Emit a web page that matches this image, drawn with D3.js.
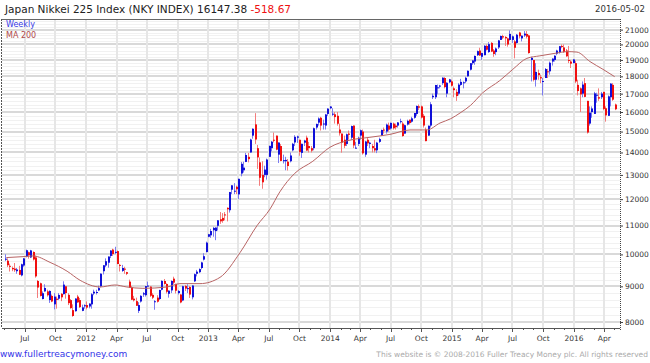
<!DOCTYPE html>
<meta charset="utf-8" />
<script src="https://d3js.org/d3.v7.min.js"></script>
<style>
  body { margin: 0; background: #fff; }
  svg { display: block; font-family: "DejaVu Sans", sans-serif; }
</style>
<div id="chart"></div>
<script>
  // weekly bars, one per week, dated by the Monday of the week
  var firstWeek = new Date(2011, 4, 2);

  var opens = [
    // 2011
    9850,9794,9630,9560,9540,9460,9500,9330,9640,9930,10070,9900,10080,9900,9160,9090,8630,8850,8850,8600,8720,8480,8640,8640,8780,8770,9000,8750,8600,8320,8290,8700,8600,8300,8440,
    // 2012
    8460,8420,8480,8790,8810,8880,9000,9460,9640,9730,9950,10160,10080,10110,9660,9470,9540,9430,9140,8970,8640,8570,8300,8560,8760,8740,9000,8990,8750,8560,8670,8630,8900,9160,9070,8780,8880,9230,9070,8800,8760,8590,9010,8930,8980,8680,9150,9380,9430,9560,9830,10080,
    // 2013
    10600,10650,10830,10800,10990,11230,11280,11410,11660,11570,12380,12300,12500,12190,13060,13200,13570,13800,14000,14800,15360,14200,13550,13000,13000,13000,13800,14200,14600,14800,13900,14300,13600,13600,13580,13600,14100,14470,14700,14600,13980,14460,14700,14300,14200,14200,15200,15450,15700,15400,15300,15900,
    // 2014
    16200,15900,15880,15800,15100,14900,14600,14400,14900,14700,15300,14200,14400,14800,15000,13900,14600,14400,14300,14200,14100,14500,14800,15100,15000,15300,15150,15400,15300,15300,15500,15400,14900,15350,15600,15500,15700,15900,16300,16300,15800,15100,14800,15300,16800,16800,17300,17400,17600,17900,17000,17650,17700,
    // 2015
    17300,17100,17000,17500,17600,17700,18000,18400,18800,18900,19300,19600,19200,19300,19900,19500,20100,19600,19500,19800,20300,20550,20500,20400,20300,20300,20200,20100,20800,20400,20600,20700,20600,19000,19000,17800,18200,17950,17700,17900,18300,18300,18900,19000,19400,19500,19900,19800,19600,19000,18900,18800,
    // 2016
    18800,17500,17300,17000,17600,16600,15400,16000,15900,16900,16800,16800,17100,16200,15800,16800,17500,16400
  ];
  var highs = [
    10004,9870,9700,9610,9720,9560,9630,9700,9880,10160,10090,10150,10100,9960,9190,9110,8850,9060,8900,8880,8760,8800,8700,8800,8800,9150,9000,8800,8630,8480,8650,8750,8660,8470,8480,
    8560,8510,8800,8900,8900,9020,9390,9650,9870,9930,10140,10190,10255,10130,9690,9660,9600,9440,9200,9010,8720,8670,8540,8740,8830,9010,9140,9000,8800,8600,8740,8900,9180,9220,9090,8880,9180,9290,9080,8890,8770,9020,9040,9060,9010,9030,9390,9500,9550,9760,10040,10430,
    10700,10880,10950,10930,11200,11500,11460,11500,11680,12290,12560,12650,12550,12840,13570,13580,13980,13980,14650,15160,15940,14350,13770,13600,13400,13720,14310,14540,14950,14800,14470,14400,13900,13800,13700,14000,14450,14820,14800,14600,14410,14600,14800,14500,14300,15200,15400,15720,15750,15600,15900,16200,
    16320,16200,16000,16000,15400,14900,14800,14900,15050,15300,15300,14500,14750,15100,15100,14550,14700,14500,14400,14600,14500,14700,15100,15200,15400,15450,15450,15450,15400,15480,15650,15500,15350,15600,15600,15750,15950,16350,16400,16350,15900,15200,15300,16530,17000,17500,17520,17500,17940,17950,17650,17850,17800,
    17400,17250,17600,17850,17700,17980,18350,18800,18980,19280,19600,19780,19450,19950,20000,20150,20150,19700,19800,20300,20600,20650,20550,20450,20950,20600,20300,20700,20850,20600,20900,20900,20650,19200,19000,18800,18400,18100,17900,18500,18450,18900,19100,19300,19650,19900,20000,20000,19700,19900,19000,19050,
    18950,17800,17350,17700,17900,16600,16300,16300,17100,17050,17300,17100,17100,16300,16900,17600,17600,16450
  ];
  var lows = [
    9780,9590,9450,9460,9440,9380,9340,9300,9600,9900,9860,9880,9800,9260,8660,8700,8620,8840,8700,8520,8540,8340,8360,8600,8570,8760,8640,8460,8360,8140,8280,8520,8380,8290,8360,
    8340,8370,8360,8740,8760,8860,8970,9360,9590,9570,9880,9950,10010,9680,9450,9440,9380,9340,8950,8600,8560,8440,8240,8530,8690,8700,8990,8690,8630,8330,8530,8600,8880,9050,8790,8670,8800,9060,8790,8760,8510,8570,8860,8800,8660,8620,9130,9300,9400,9520,9800,10060,
    10580,10560,10600,10480,10820,11060,11100,11190,11150,11480,12200,12200,12200,12000,12940,13100,13560,13550,13990,14650,14400,13260,12540,12420,12900,12800,13790,14050,14470,14100,13520,13600,13500,13200,13190,13550,14050,14300,14450,13850,13750,14300,14080,14000,14000,14100,15100,15300,15050,15100,15100,15800,
    16150,15800,15400,15300,14800,13990,14200,14300,14600,14600,14200,14200,14300,14600,13900,13800,14300,14200,14000,14000,13970,14450,14800,14900,14900,15000,15100,15100,15100,15200,15400,14750,14900,15300,15350,15450,15650,15800,16100,15660,15200,14530,14800,15200,16700,16700,16970,17300,17500,17300,16800,17600,17400,
    16800,16600,16900,17450,17300,17600,17980,18350,18700,18700,19250,19250,19000,19300,19600,19450,19500,19200,19300,19700,20300,20350,19900,19850,20250,20100,19100,20050,20400,20200,20500,20400,19400,17700,17700,17400,17800,17600,16900,17900,17900,18100,18650,18900,19300,19400,19750,19450,19200,18800,18500,18800,
    17600,16900,16000,16800,16800,14900,15300,15700,15900,16500,16600,16700,16100,15500,15800,16300,16600,16100
  ];
  var closes = [
    9859,9649,9607,9522,9492,9514,9351,9679,9868,10138,9974,10132,9833,9300,8964,8719,8798,8951,8738,8864,8560,8700,8606,8748,8679,9050,8801,8514,8375,8160,8644,8536,8402,8395,8455,
    8390,8500,8766,8841,8832,8947,9384,9647,9777,9930,10130,10011,10084,9688,9638,9561,9521,9380,8953,8611,8593,8440,8459,8721,8798,9007,9021,8724,8670,8567,8555,8891,9163,9071,8840,8872,9159,9110,8870,8863,8534,9003,8933,8946,8758,9024,9367,9446,9527,9738,9940,10395,
    10688,10802,10913,10927,11191,11153,11174,11386,11606,12284,12561,12339,12398,12834,13485,13316,13884,13694,14608,15138,14612,13775,12878,12687,13230,13677,14310,14506,14590,14130,14466,13615,13650,13661,13389,13861,14405,14742,14760,14024,14405,14562,14088,14202,14087,15166,15382,15662,15300,15403,15870,16179,
    16291,15912,15734,15392,14915,14462,14313,14866,14841,15274,14328,14224,14696,15064,13960,14516,14429,14458,14200,14097,14462,14632,15077,15098,15349,15095,15437,15164,15216,15458,15523,14778,15318,15539,15425,15669,15948,16321,16230,15709,15301,14533,15292,16414,16880,17491,17358,17460,17920,17372,17621,17819,17451,
    17198,16864,17512,17674,17649,17913,18332,18798,18971,19254,19560,19286,19435,19908,19653,20020,19532,19379,19733,20264,20563,20461,20407,19991,20706,20540,19780,20651,20545,20585,20725,20519,19436,19136,17792,18264,18070,17881,17725,18439,18292,18825,19083,19266,19597,19880,19884,19504,19230,18987,18769,19034,
    17698,17147,16959,17518,16820,14953,15967,16188,17015,16939,16725,17003,16164,15822,16848,17572,16666,16147
  ];

  // 200 day moving average
  var maDates = [
    "2011-05-07","2011-07-02","2011-07-26","2011-09-15","2011-11-05","2011-12-14","2012-02-12","2012-03-27",
    "2012-05-02","2012-06-19","2012-08-30","2012-10-08","2012-12-07","2013-02-05","2013-04-06","2013-05-27",
    "2013-07-05","2013-08-03","2013-09-17","2013-11-10","2013-12-31","2014-03-01","2014-04-30","2014-06-29",
    "2014-08-28","2014-10-18","2014-11-26","2014-12-28","2015-01-25","2015-02-25","2015-04-03","2015-05-24",
    "2015-07-02","2015-08-13","2015-09-21","2015-11-11","2015-12-11","2016-01-10","2016-02-18","2016-03-28","2016-05-02"
  ];
  var maValues = [
    9895,9930,9950,9740,9460,9180,8980,9040,
    8980,8940,8980,9080,9080,9270,10060,11000,
    11620,12290,13070,13600,14240,14580,14720,14860,
    15080,15080,15430,15650,15950,16350,17050,17750,
    18420,19100,19260,19440,19530,19500,18900,18420,17980
  ];

  var yTicks = [8000,9000,10000,11000,12000,13000,14000,15000,16000,17000,18000,19000,20000,21000];
  var title = "Japan Nikkei 225 Index (NKY INDEX) 16147.38";
  var change = "-518.67";
  var lastDate = "2016-05-02";

  var width = 650, height = 363;
  var plotLeft = 2, plotRight = 620, plotTop = 19, plotBottom = 328;

  var upColor = "#1010d8", downColor = "#f01010";
  var upWick = "#7b7bf0", downWick = "#f47c7c";

  var svg = d3.select("#chart").append("svg")
    .attr("width", width)
    .attr("height", height);

  var x = d3.scaleTime()
    .domain([new Date(2011, 3, 24), new Date(2016, 4, 18)])
    .range([plotLeft, plotRight]);
  var y = d3.scaleLog()
    .domain([7843, 21750])
    .range([plotBottom, plotTop]);

  var parse = d3.timeParse("%Y-%m-%d");
  var bars = closes.map(function (c, i) {
    return { date: d3.timeWeek.offset(firstWeek, i), o: opens[i], h: highs[i], l: lows[i], c: c };
  });
  var ma = maDates.map(function (d, i) { return { date: parse(d), v: maValues[i] }; });

  // minor horizontal grid
  var minor = [];
  for (var v = 8000; v <= 21600; v += 200) if (v % 1000) minor.push(v);
  svg.append("g").selectAll("line").data(minor).enter().append("line")
    .attr("x1", plotLeft).attr("x2", plotRight)
    .attr("y1", function (d) { return Math.round(y(d)) + 0.5; })
    .attr("y2", function (d) { return Math.round(y(d)) + 0.5; })
    .attr("stroke", "#f1f1f1");

  // major horizontal grid
  svg.append("g").selectAll("line").data(yTicks).enter().append("line")
    .attr("x1", plotLeft).attr("x2", plotRight)
    .attr("y1", function (d) { return Math.round(y(d)); })
    .attr("y2", function (d) { return Math.round(y(d)); })
    .attr("stroke", "#d9d9d9").attr("stroke-width", 2);

  // vertical grid, one per quarter
  var quarters = d3.timeMonth.every(3).range(new Date(2011, 6, 1), new Date(2016, 4, 18));
  svg.append("g").selectAll("line").data(quarters).enter().append("line")
    .attr("x1", function (d) { return Math.round(x(d)); })
    .attr("x2", function (d) { return Math.round(x(d)); })
    .attr("y1", plotTop).attr("y2", plotBottom)
    .attr("stroke", "#e6e6e6").attr("stroke-width", 2);

  // frame
  svg.append("line").attr("x1", plotLeft).attr("x2", plotRight).attr("y1", plotTop + 0.5).attr("y2", plotTop + 0.5)
    .attr("stroke", "#666");
  svg.append("line").attr("x1", 1.5).attr("x2", 1.5).attr("y1", plotTop).attr("y2", plotBottom)
    .attr("stroke", "#555").attr("stroke-dasharray", "2,1");
  svg.append("line").attr("x1", plotRight + 0.5).attr("x2", plotRight + 0.5).attr("y1", plotTop).attr("y2", plotBottom + 2)
    .attr("stroke", "#444").attr("stroke-dasharray", "1,1");

  // candles
  var candle = svg.append("g").selectAll("g").data(bars).enter().append("g");
  candle.append("line")
    .attr("x1", function (d) { return Math.round(x(d.date)) + 0.5; })
    .attr("x2", function (d) { return Math.round(x(d.date)) + 0.5; })
    .attr("y1", function (d) { return y(d.h); })
    .attr("y2", function (d) { return y(d.l); })
    .attr("stroke", function (d) { return d.c >= d.o ? upWick : downWick; });
  candle.append("rect")
    .attr("x", function (d) { return Math.round(x(d.date)); })
    .attr("width", 2)
    .attr("y", function (d) { return y(Math.max(d.o, d.c)); })
    .attr("height", function (d) { return Math.max(1, Math.abs(y(d.o) - y(d.c))); })
    .attr("fill", function (d) { return d.c >= d.o ? upColor : downColor; });

  // moving average
  svg.append("path").datum(ma)
    .attr("d", d3.line().x(function (d) { return x(d.date); }).y(function (d) { return y(d.v); }).curve(d3.curveMonotoneX))
    .attr("fill", "none").attr("stroke", "#b86464").attr("stroke-width", 1);

  // right axis
  var yAxis = svg.append("g").attr("transform", "translate(" + plotRight + ",0)")
    .call(d3.axisRight(y).tickValues(yTicks).tickSize(3).tickPadding(2).tickFormat(d3.format("d")));
  yAxis.select(".domain").remove();
  yAxis.selectAll("line").attr("stroke", "#444");
  yAxis.selectAll("text").attr("font-size", "7.5px").attr("fill", "#333").attr("font-family", "DejaVu Sans");

  // bottom axis
  svg.append("line").attr("x1", plotLeft).attr("x2", plotRight).attr("y1", plotBottom + 0.5).attr("y2", plotBottom + 0.5)
    .attr("stroke", "#555");
  var months = d3.timeMonth.range(new Date(2011, 4, 1), new Date(2016, 4, 18));
  svg.append("g").selectAll("line").data(months).enter().append("line")
    .attr("x1", function (d) { return Math.round(x(d)) + 0.5; })
    .attr("x2", function (d) { return Math.round(x(d)) + 0.5; })
    .attr("y1", plotBottom).attr("y2", function (d) { return d.getMonth() % 3 == 0 ? plotBottom + 4 : plotBottom + 2; })
    .attr("stroke", "#555");
  svg.append("g").selectAll("text").data(quarters).enter().append("text")
    .attr("x", function (d) { return x(d); })
    .attr("y", 341)
    .attr("text-anchor", "middle")
    .attr("font-size", "7.5px")
    .attr("fill", "#333")
    .text(function (d) { return d.getMonth() == 0 ? d.getFullYear() : d3.timeFormat("%b")(d); });

  // title and legend
  var t = svg.append("text").attr("x", 5).attr("y", 13).attr("font-size", "10.5px").attr("fill", "#222");
  t.append("tspan").text(title + " ");
  t.append("tspan").attr("fill", "#ee1111").text(change);
  svg.append("text").attr("x", 645).attr("y", 12).attr("text-anchor", "end")
    .attr("font-size", "8.6px").attr("fill", "#333").text(lastDate);
  svg.append("text").attr("x", 6).attr("y", 27).attr("font-size", "8px").attr("fill", "#3a3ae6").text("Weekly");
  svg.append("text").attr("x", 6).attr("y", 38).attr("font-size", "8px").attr("fill", "#b04a4a").text("MA 200");

  // footer
  svg.append("text").attr("x", 0).attr("y", 357).attr("font-size", "9px").attr("fill", "#3434e8")
    .text("www.fullertreacymoney.com");
  svg.append("text").attr("x", 648).attr("y", 357).attr("text-anchor", "end").attr("font-size", "7.5px")
    .attr("fill", "#aaa").text("This website is \u00a9 2008-2016 Fuller Treacy Money plc. All rights reserved");
</script>
